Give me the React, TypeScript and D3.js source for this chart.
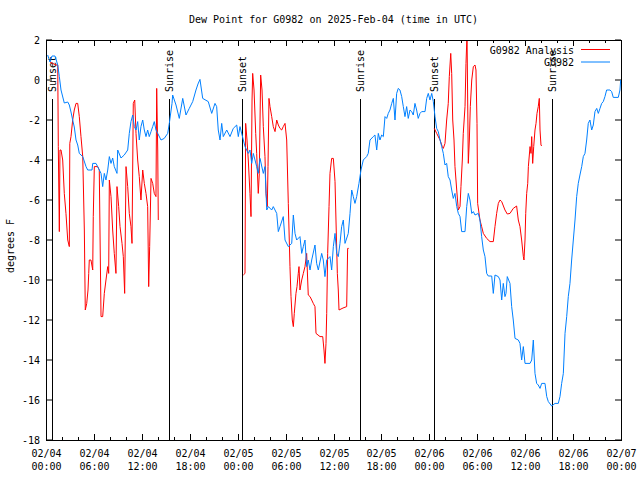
import React from "react";
import * as d3 from "d3";

const TITLE = "Dew Point for G0982 on 2025-Feb-04 (time in UTC)";
const Y_LABEL = "degrees F";
const SERIES_NAMES = ["G0982 Analysis", "G0982"];
const SERIES_COLORS = ["#ff0000", "#0080ff"];
const START_MS = Date.UTC(2025, 1, 4, 0, 0);
const SPAN_HOURS = 72;
const Y_MIN = -18;
const Y_MAX = 2;
const Y_TICKS = [-18, -16, -14, -12, -10, -8, -6, -4, -2, 0, 2];
const X_MAJOR_HOURS = [0, 6, 12, 18, 24, 30, 36, 42, 48, 54, 60, 66, 72];
const X_MINOR_HOURS = [2, 4, 8, 10, 14, 16, 20, 22, 26, 28, 32, 34, 38, 40, 44, 46, 50, 52, 56, 58, 62, 64, 68, 70];

const SUN_HOURS = [0.75, 15.34, 24.6, 39.38, 48.59, 63.3];
const SUN_LABELS = ["Sunset", "Sunrise", "Sunset", "Sunrise", "Sunset", "Sunrise"];
const SUN_LINE_TOP = -0.95;

// Observed dew point (hours since 2025-02-04 00:00 UTC, °F)
const OBS: [number, number][] = [
  [0.21,1.25],[0.5,0.9],[0.75,1.2],[1.13,1.2],[1.47,0.75],[1.67,0.17],[1.88,-0.5],[2.29,-1.15],[2.72,-1.1],[2.92,-1.25],
  [3.13,-1.6],[3.34,-2],[3.54,-2.35],[3.76,-3],[3.97,-3.25],[4.17,-3.67],[4.6,-3.83],[5.01,-4.33],[5.22,-4.5],[5.76,-4.5],
  [5.85,-4.17],[6.26,-4.17],[6.47,-4.33],[6.89,-4.67],[7.1,-5.33],[7.3,-4.67],[7.51,-5],[7.73,-4.5],[7.93,-3.83],[8.14,-4.17],
  [8.35,-3.9],[8.55,-4.33],[8.89,-4.67],[8.98,-3.5],[9.39,-3.9],[9.8,-3.75],[10.23,-3.5],[10.43,-2.67],[10.64,-2.08],[10.86,-1.75],
  [11.06,-2.33],[11.27,-2.5],[11.48,-2.08],[11.68,-3],[11.89,-2.33],[12.11,-2],[12.31,-2.5],[12.52,-2.83],[12.73,-2.5],[12.93,-2.83],
  [13.15,-2.58],[13.36,-2.33],[13.56,-2.08],[13.77,-2.5],[13.99,-2.67],[14.4,-3],[14.81,-2.92],[15.24,-2.67],[15.44,-2.17],[15.78,-1.17],
  [15.86,-0.75],[16.28,-1.25],[16.69,-1.92],[17.12,-0.92],[17.53,-1.75],[17.94,-1.42],[18.37,-1.08],[18.78,-0.5],[19.03,-0.2],[19.28,0.03],
  [19.62,-0.92],[20.32,-1.08],[20.75,-1.67],[21.16,-1.17],[21.37,-1.33],[21.57,-2.5],[21.79,-3],[22.0,-2.17],[22.2,-2.83],[22.63,-2.5],
  [23.04,-2.83],[23.45,-2.42],[23.88,-2.25],[24.08,-2.83],[24.29,-2.33],[24.71,-3],[24.92,-3.33],[25.33,-3.67],[25.54,-3.5],[25.76,-4.17],
  [25.96,-3.67],[26.38,-4.33],[26.58,-4.67],[26.8,-3.92],[27.21,-4.67],[27.42,-4.33],[27.64,-6.5],[27.84,-6.33],[28.26,-6.5],[28.46,-6.33],
  [28.89,-6.67],[29.09,-7.58],[29.3,-7.33],[29.71,-6.83],[29.93,-8],[30.34,-8.33],[30.77,-8.17],[30.97,-6.75],[31.18,-7.67],[31.39,-8],
  [31.8,-7.83],[32.02,-8.67],[32.22,-8.33],[32.43,-8],[32.64,-9.33],[32.84,-9],[33.06,-9.5],[33.27,-9],[33.68,-8.25],[33.89,-9.17],
  [34.1,-9.5],[34.52,-8.67],[34.72,-9],[34.93,-9.83],[35.15,-9],[35.56,-8.83],[35.77,-9.5],[35.98,-8.33],[36.19,-7.67],[36.4,-8.67],
  [36.6,-8.83],[36.81,-8.17],[37.02,-7.33],[37.23,-7],[37.44,-8.17],[37.85,-7.67],[38.07,-6.67],[38.28,-5.5],[38.48,-5.83],[38.69,-6.17],
  [38.9,-5.83],[39.19,-5.17],[39.44,-4.5],[39.73,-4],[40.15,-3.83],[40.35,-3.67],[40.57,-3],[40.98,-2.83],[41.19,-2.75],[41.41,-3.5],
  [41.61,-2.67],[41.82,-3],[42.03,-2.75],[42.24,-2.83],[42.45,-1.83],[42.66,-1.92],[42.86,-1.67],[43.07,-1.5],[43.29,-1.17],[43.49,-0.92],
  [43.7,-2],[43.91,-0.67],[44.11,-0.42],[44.32,-0.5],[44.54,-0.83],[44.74,-1.33],[44.95,-1.83],[45.16,-1.33],[45.36,-1.92],[45.58,-1.5],
  [45.79,-1.58],[45.99,-1.75],[46.2,-1.17],[46.41,-1.5],[46.61,-1.92],[46.83,-1.67],[47.04,-1.58],[47.46,-1.58],[47.67,-0.92],[47.87,-0.67],
  [48.08,-1],[48.3,-0.67],[48.5,-1.08],[48.71,-1.83],[48.92,-2.42],[49.12,-2.58],[49.34,-3],[49.55,-3.33],[49.75,-3.67],[49.96,-4.25],
  [50.17,-4.17],[50.37,-4.83],[50.59,-5],[50.8,-5.5],[51.0,-5.92],[51.21,-5.67],[51.43,-6.33],[51.63,-6.67],[51.84,-6.83],[52.05,-7.58],
  [52.47,-7.58],[52.68,-6.33],[52.88,-5.67],[53.09,-6],[53.31,-6.67],[53.51,-6.58],[53.72,-6.75],[54.13,-6.67],[54.34,-7],[54.55,-7.83],
  [54.76,-8.5],[54.97,-8.83],[55.18,-9.67],[55.38,-9.8],[55.81,-9.8],[56.01,-10.67],[56.22,-9.75],[56.64,-9.83],[56.85,-10],[57.06,-11],
  [57.26,-10.17],[57.47,-10.83],[57.6,-10.67],[57.76,-9.83],[58.1,-10.17],[58.31,-11.33],[58.51,-12],[58.73,-12.92],[59.14,-13],[59.35,-13.17],
  [59.56,-14],[59.77,-13.33],[59.98,-14.17],[60.61,-14.17],[60.82,-14],[61.02,-13],[61.23,-14.67],[61.44,-15.17],[61.64,-15.25],[61.86,-15.42],
  [62.07,-15.17],[62.48,-15.17],[62.7,-15.83],[62.9,-16.08],[63.32,-16.3],[63.74,-16.17],[64.15,-16.17],[64.36,-15.83],[64.57,-15.17],[64.78,-14.67],
  [64.99,-12.67],[65.2,-11.83],[65.4,-10.83],[65.61,-10.17],[65.82,-9],[66.03,-8],[66.24,-7],[66.45,-5.83],[66.65,-5.17],[66.86,-4.75],
  [67.08,-4.33],[67.28,-3.83],[67.49,-3.67],[67.7,-3],[67.9,-2.17],[68.11,-2],[68.33,-2.5],[68.53,-2.25],[68.74,-1.58],[68.96,-1.42],
  [69.16,-1.67],[69.37,-1.42],[69.58,-1.17],[69.78,-1.08],[69.99,-0.83],[70.2,-0.5],[70.62,-0.5],[70.83,-0.58],[71.03,-0.87],[71.66,-0.87],
  [71.87,-0.5],[71.96,0]
];

// Analysis dew point, three night-time segments (null = gap)
const ANA: [number, number | null][] = [
  [0.5,0.9],[0.84,0.83],[1.25,0.75],[1.47,0.75],[1.54,-3.33],[1.67,-7.58],[1.75,-3.5],[1.88,-3.5],[2.09,-4],[2.29,-5.67],
  [2.5,-6.67],[2.72,-8],[2.92,-8.33],[2.98,-3.17],[3.13,-2.83],[3.34,-2],[3.54,-1.5],[3.76,-1.17],[3.97,-1.17],[4.17,-1.83],
  [4.38,-2.83],[4.6,-3.83],[4.8,-7.5],[4.92,-11.5],[5.1,-11.17],[5.26,-10.5],[5.35,-9.67],[5.42,-9],[5.63,-9],[5.85,-9.5],
  [5.92,-6.83],[6.05,-4.33],[6.47,-4.33],[6.67,-4.5],[6.89,-11.83],[7.1,-11.83],[7.3,-10.67],[7.51,-10],[7.73,-9.33],[7.85,-9.67],
  [7.93,-5],[8.14,-5.83],[8.35,-7.5],[8.55,-8.67],[8.76,-9.67],[8.89,-5.33],[9.1,-6.33],[9.27,-7.33],[9.52,-8.17],[9.68,-8.83],
  [9.85,-10.67],[10.02,-4.33],[10.23,-5.33],[10.43,-6.67],[10.64,-7.33],[10.77,-8.17],[10.93,-1.17],[11.11,-1],[11.27,-2.67],[11.48,-4],
  [11.68,-4.83],[11.89,-6],[12.11,-4.5],[12.31,-5.17],[12.52,-5.67],[12.73,-6.33],[12.86,-10.33],[12.98,-8.33],[13.15,-4.92],[13.36,-5.17],
  [13.56,-5.67],[13.77,-5.83],[13.86,-0.42],[13.99,-3.5],[14.06,-7.0],
  [20, null],
  [24.71,-9.75],[24.92,-9.67],[25.0,-2.17],[25.17,-3],[25.33,-4],[25.54,-5.67],[25.67,-6.83],[25.8,-1],[25.88,0.33],[26.05,-0.5],
  [26.26,-2.67],[26.38,-3.67],[26.58,-5.67],[26.71,-4.67],[26.88,0.25],[27.05,-0.5],[27.21,-2.33],[27.42,-3.83],[27.55,-5.67],[27.71,-6.33],
  [27.8,-4.33],[27.92,-0.92],[28.05,-1.33],[28.26,-1.83],[28.46,-2.33],[28.68,-2.58],[28.89,-2],[29.09,-2.25],[29.3,-2.42],[29.51,-2.5],
  [29.71,-2.33],[29.93,-2.17],[30.14,-3],[30.34,-6.17],[30.55,-9.33],[30.68,-10.83],[30.84,-12],[30.97,-12.33],[31.09,-11.67],[31.3,-10.67],
  [31.43,-10.33],[31.59,-9.67],[31.68,-9.33],[31.8,-10.5],[32.02,-10],[32.22,-9.67],[32.43,-9.33],[32.64,-8.67],[32.84,-10.75],[33.06,-10.83],
  [33.27,-11],[33.47,-11.17],[33.68,-11.33],[33.81,-12.67],[34.31,-12.83],[34.65,-12.83],[34.81,-13.5],[34.93,-14.17],[35.06,-13.17],[35.15,-11.67],
  [35.27,-8.67],[35.44,-6.33],[35.56,-4.67],[35.77,-3.92],[35.98,-3.92],[36.19,-5.08],[36.31,-7],[36.48,-9.67],[36.6,-10.5],[36.69,-11.5],
  [37.19,-11.4],[37.65,-11.33],[37.77,-8.42],[37.9,-8.42],
  [44, null],
  [48.62,-2.42],[48.92,-2.67],[49.34,-3],[49.62,-3.33],[49.75,-3.42],[49.96,-3.17],[50.17,-2],[50.37,-1.17],[50.5,0.17],[50.68,1.33],
  [50.8,0.33],[50.93,-2],[51.09,-3],[51.21,-4.33],[51.43,-5.5],[51.63,-6.5],[51.84,-6.33],[51.96,-5.33],[52.13,-4],[52.25,-2.67],
  [52.47,-1.33],[52.59,0.83],[52.72,2.3],[52.88,-4.17],[53.01,-3],[53.13,-1.33],[53.31,0],[53.51,0.67],[53.72,0.75],[53.84,0.5],
  [53.97,-2.17],[54.05,-6.17],[54.34,-7],[54.55,-7.33],[54.76,-7.67],[55.18,-7.92],[55.6,-8.08],[56.01,-8.08],[56.22,-7.33],[56.43,-6.67],
  [56.64,-6.17],[56.85,-6],[57.06,-6.08],[57.47,-6.5],[57.76,-6.7],[58.1,-6.67],[58.51,-6.42],[58.93,-6.3],[59.14,-7],[59.35,-7.33],
  [59.56,-8],[59.77,-8.83],[59.85,-9],[59.98,-8],[60.07,-6.67],[60.19,-5.67],[60.32,-5.17],[60.4,-4.33],[60.61,-3.33],[60.73,-3.67],
  [60.82,-2.83],[60.94,-4.17],[61.07,-3.33],[61.23,-2.5],[61.36,-2.17],[61.48,-1.67],[61.64,-1.33],[61.77,-0.92],[61.86,-2.5],[61.98,-3.25],
  [62.07,-3.3]
];

const W = 640;
const H = 480;
const M = { left: 46, right: 19, top: 40, bottom: 40 };
const FONT = "'DejaVu Sans Mono', monospace";

const toDate = (h: number) => new Date(START_MS + h * 3600 * 1000);

export default function App() {
  const x = d3
    .scaleUtc()
    .domain([toDate(0), toDate(SPAN_HOURS)])
    .range([M.left, W - M.right]);
  const y = d3.scaleLinear().domain([Y_MIN, Y_MAX]).range([H - M.bottom, M.top]);

  const obsLine = d3
    .line<[number, number]>()
    .x((d) => x(toDate(d[0])))
    .y((d) => y(d[1]));
  const anaLine = d3
    .line<[number, number | null]>()
    .defined((d) => d[1] !== null)
    .x((d) => x(toDate(d[0])))
    .y((d) => y(d[1] as number));

  const fmtDay = d3.utcFormat("%m/%d");
  const fmtHour = d3.utcFormat("%H:%M");
  const x0 = M.left;
  const x1 = W - M.right;
  const yTop = M.top;
  const yBot = H - M.bottom;

  return (
    <svg
      width={W}
      height={H}
      style={{ position: "absolute", left: 0, top: 0, background: "#fff" }}
      fontFamily={FONT}
      fontSize={10}
    >
      <rect x={0} y={0} width={W} height={H} fill="#fff" />
      <defs>
        <clipPath id="plotclip">
          <rect x={x0} y={yTop} width={x1 - x0} height={yBot - yTop} />
        </clipPath>
      </defs>

      <text x={(x0 + x1) / 2} y={23} textAnchor="middle" fill="#000">
        {TITLE}
      </text>

      {/* y ticks */}
      {Y_TICKS.map((t) => (
        <g key={"y" + t}>
          <line x1={x0} x2={x0 + 6} y1={y(t)} y2={y(t)} stroke="#000" />
          <line x1={x1} x2={x1 - 6} y1={y(t)} y2={y(t)} stroke="#000" />
          <text x={x0 - 6} y={y(t)} dy="0.35em" textAnchor="end" fill="#000">
            {t}
          </text>
        </g>
      ))}

      {/* x ticks */}
      {X_MAJOR_HOURS.map((h) => {
        const px = Math.round(x(toDate(h))) + 0.5;
        return (
          <g key={"xm" + h}>
            <line x1={px} x2={px} y1={yBot} y2={yBot - 6} stroke="#000" />
            <line x1={px} x2={px} y1={yTop} y2={yTop + 6} stroke="#000" />
            <text x={px} y={457} textAnchor="middle" fill="#000">
              {fmtDay(toDate(h))}
            </text>
            <text x={px} y={470} textAnchor="middle" fill="#000">
              {fmtHour(toDate(h))}
            </text>
          </g>
        );
      })}
      {X_MINOR_HOURS.map((h) => {
        const px = Math.round(x(toDate(h))) + 0.5;
        return (
          <g key={"xn" + h}>
            <line x1={px} x2={px} y1={yBot} y2={yBot - 3} stroke="#000" />
            <line x1={px} x2={px} y1={yTop} y2={yTop + 3} stroke="#000" />
          </g>
        );
      })}

      <text
        transform={`translate(14,${(yTop + yBot) / 2 + 6}) rotate(-90)`}
        textAnchor="middle"
        fill="#000"
      >
        {Y_LABEL}
      </text>

      {/* sunrise / sunset */}
      {SUN_HOURS.map((h, i) => {
        const px = Math.round(x(toDate(h))) + 0.5;
        return (
          <g key={"sun" + i}>
            <line x1={px} x2={px} y1={y(SUN_LINE_TOP)} y2={yBot} stroke="#000" />
            <text
              transform={`translate(${px},92) rotate(-90)`}
              dy="0.35em"
              textAnchor="start"
              fill="#000"
            >
              {SUN_LABELS[i]}
            </text>
          </g>
        );
      })}

      <g clipPath="url(#plotclip)">
        <path d={anaLine(ANA) || ""} fill="none" stroke={SERIES_COLORS[0]} strokeWidth={1} />
        <path d={obsLine(OBS) || ""} fill="none" stroke={SERIES_COLORS[1]} strokeWidth={1} />
      </g>

      {/* legend */}
      {SERIES_NAMES.map((name, i) => (
        <g key={"lg" + i}>
          <text x={574} y={50 + i * 12} dy="0.35em" textAnchor="end" fill="#000">
            {name}
          </text>
          <line
            x1={581}
            x2={610}
            y1={49.5 + i * 12.5}
            y2={49.5 + i * 12.5}
            stroke={SERIES_COLORS[i]}
          />
        </g>
      ))}

      <rect
        x={x0 + 0.5}
        y={yTop + 0.5}
        width={x1 - x0}
        height={yBot - yTop}
        fill="none"
        stroke="#000"
      />
    </svg>
  );
}
